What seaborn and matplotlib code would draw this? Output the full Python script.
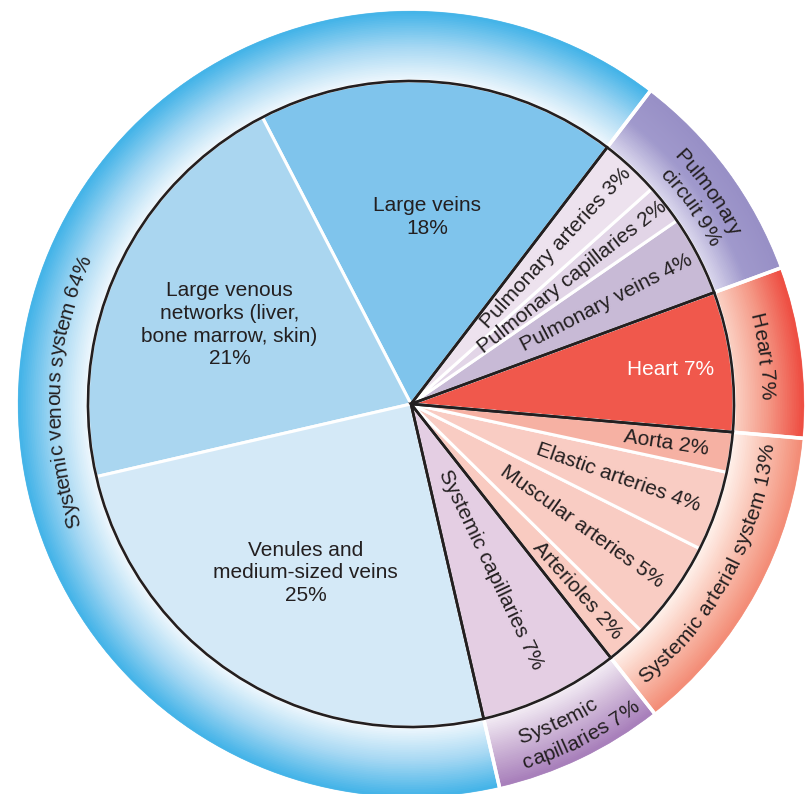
import numpy as np
import seaborn as sns
import matplotlib.pyplot as plt
from matplotlib.font_manager import FontProperties

# inner pie: vessel compartments, counterclockwise starting at the heart
vessel_names = ["Heart 7%", "Pulmonary veins 4%", "Pulmonary capillaries 2%",
                "Pulmonary arteries 3%", "Large veins\n18%",
                "Large venous\nnetworks (liver,\nbone marrow, skin)\n21%",
                "Venules and\nmedium-sized veins\n25%", "Systemic capillaries 7%",
                "Arterioles 2%", "Muscular arteries 5%", "Elastic arteries 4%", "Aorta 2%"]
vessel_pct = [7, 4, 2, 3, 18, 21, 25, 7, 2, 5, 4, 2]
vessel_colors = ["#f0584c", "#c8bad6", "#e2d5e7", "#ede2ee", "#7fc4ec", "#aad6f0",
                 "#d4e9f7", "#e4cee3", "#f9cbc1", "#f9ccc3", "#f9ccc3", "#f6b1a3"]

# outer ring: circuits
circuit_names = [["Heart 7%"], ["Pulmonary", "circuit 9%"], ["Systemic venous system 64%"],
                 ["Systemic", "capillaries 7%"], ["Systemic arterial system 13%"]]
circuit_pct = [7, 9, 64, 7, 13]
circuit_inner = ["#fbd3c6", "#dcd9ee", "#f0f8fd", "#f4edf5", "#fff2ec"]
circuit_mid = ["#f49886", "#a099cc", "#a6d8f3", "#cdb4d6", "#f9c0b0"]
circuit_outer = ["#ee4f43", "#9890c6", "#45b4e8", "#a880bb", "#f38d77"]

INK = "#231f20"
FONT = "Liberation Sans"
FS = 15
START = -5
CX, CY = 411, 390
R_IN, R_OUT = 323, 393

sns.set_theme(style="white")
plt.rcParams["font.family"] = [FONT, "DejaVu Sans"]

fig = plt.figure(figsize=(8.11, 7.94), dpi=100)
ax = fig.add_axes([0, 0, 1, 1])


def mid_angles(pct):
    cum = np.cumsum([0] + list(pct))
    return START + 3.6 * (cum[:-1] + cum[1:]) / 2


# outer ring as many thin rings -> radial gradient
n_steps = 40
radii = np.linspace(R_IN, R_OUT, n_steps + 1)
palettes = [sns.blend_palette([a, b, c], n_steps)
            for a, b, c in zip(circuit_inner, circuit_mid, circuit_outer)]
for k in range(n_steps):
    wedges, _ = ax.pie(circuit_pct, radius=radii[k + 1], center=(CX, CY),
                       startangle=START, colors=[p[k] for p in palettes],
                       wedgeprops=dict(width=radii[k + 1] - radii[k] + 0.5, linewidth=0.6))
    for w in wedges:
        w.set_edgecolor(w.get_facecolor())

# white gaps between circuits
ax.pie(circuit_pct, radius=R_OUT + 2, center=(CX, CY), startangle=START,
       wedgeprops=dict(width=R_OUT + 2 - R_IN, fill=False, edgecolor="white", linewidth=2.5))

# inner pie
ax.pie(vessel_pct, radius=R_IN, center=(CX, CY), startangle=START, colors=vessel_colors,
       wedgeprops=dict(edgecolor="white", linewidth=2.2))
# black outlines per circuit
ax.pie(circuit_pct, radius=R_IN, center=(CX, CY), startangle=START,
       wedgeprops=dict(fill=False, edgecolor=INK, linewidth=1.9))

ax.set_xlim(0, 811)
ax.set_ylim(0, 794)
ax.set_aspect("equal")
ax.axis("off")

# ---- inner labels
v_mid = mid_angles(vessel_pct)
# (radius, horizontal?) per slice
inner_layout = [(262, True), (220, False), (205, False), (213, False), (188, True),
                (198, True), (199, True), (184, False), (250, False), (210, False),
                (220, False), (258, False)]
for i, (name, ang, (r, horiz)) in enumerate(zip(vessel_names, v_mid, inner_layout)):
    if i == 5:
        ang += 1.2  # nudge the long label a touch lower, as in the original
    x = CX + r * np.cos(np.radians(ang))
    y = CY + r * np.sin(np.radians(ang))
    ax.text(x, y, name, ha="center", va="center", fontsize=FS, linespacing=1.25,
            color="white" if i == 0 else INK,
            rotation=0 if horiz else ang, rotation_mode="anchor")

# ---- curved outer labels
renderer = fig.canvas.get_renderer()
prop = FontProperties(family=FONT, size=FS)


def text_width(s):
    return renderer.get_text_width_height_descent(s, prop, ismath=False)[0]


def arc_text(s, theta, r, clockwise):
    total = text_width(s)
    rb = r - 7 if clockwise else r + 7
    for i, ch in enumerate(s):
        if ch == " ":
            continue
        c = text_width(s[:i + 1]) - text_width(ch) / 2
        off = np.degrees((c - total / 2) / r)
        a = theta - off if clockwise else theta + off
        rot = a - 90 if clockwise else a + 90
        ax.text(CX + rb * np.cos(np.radians(a)), CY + rb * np.sin(np.radians(a)), ch,
                rotation=rot, rotation_mode="anchor", ha="center", va="baseline",
                fontsize=FS, color=INK)


# (angle, radius) for each line, and direction
outer_layout = [
    ([(7.7, 357)], True),
    ([(35.6, 368), (35.2, 345)], True),
    ([(177.9, 358)], True),
    ([(-65.3, 350), (-62.9, 375)], False),
    ([(-28.3, 358)], False),
]
for lines, (spots, cw) in zip(circuit_names, outer_layout):
    for line, (theta, r) in zip(lines, spots):
        arc_text(line, theta, r, cw)

fig.savefig("out.png", dpi=100)
